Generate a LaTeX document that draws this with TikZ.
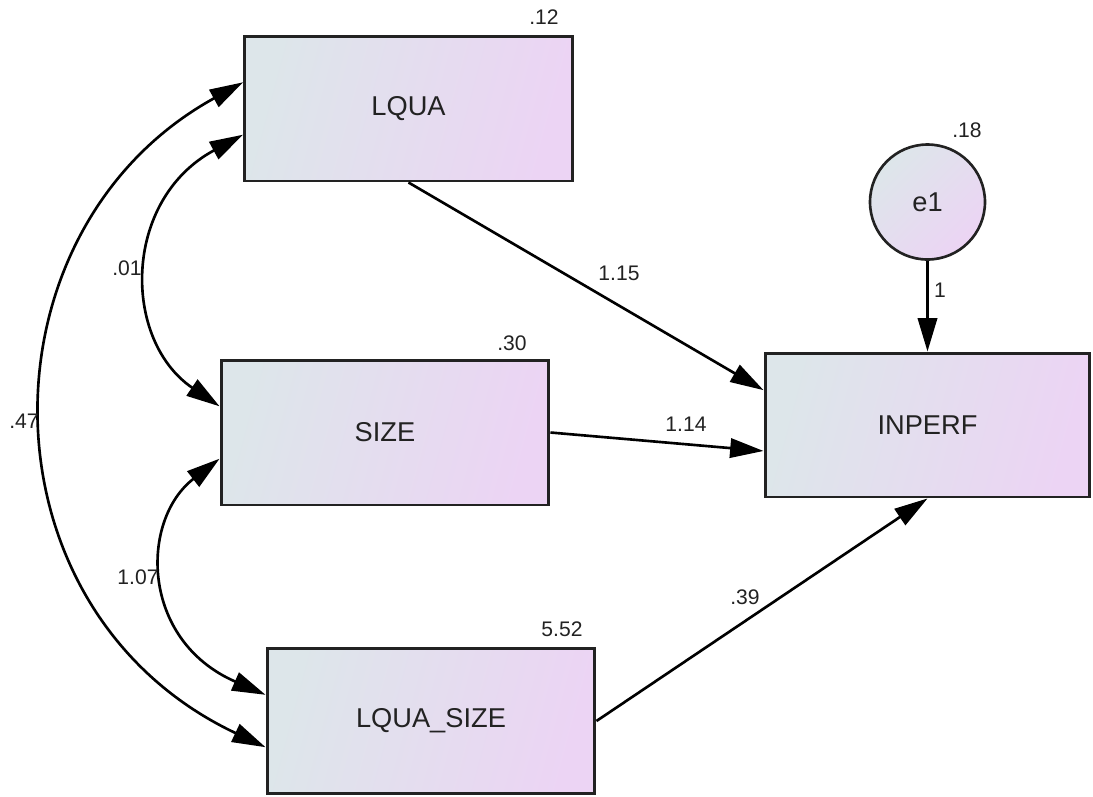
\documentclass[tikz,border=0pt]{standalone}
\usepackage{fontspec}
\setmainfont{Liberation Sans}
\usetikzlibrary{arrows.meta}

\definecolor{boxLeft}{HTML}{DDE6EA}
\definecolor{boxRight}{HTML}{ECD4F4}
\definecolor{inkGray}{HTML}{222222}

\begin{document}
\begin{tikzpicture}[x = 0.02cm, y = -0.02cm, font = \fontsize{15.5}{18}\selectfont]
\tikzstyle{boxStyle} = [shape = rectangle, draw = inkGray, line width = 1.7pt, left color = boxLeft, right color = boxRight, shading angle = 75, minimum width = 6.56cm, minimum height = 2.9cm, inner sep = 0pt, text = inkGray]
\tikzstyle{errStyle} = [shape = circle, draw = inkGray, line width = 1.5pt, left color = boxLeft, right color = boxRight, shading angle = 45, minimum size = 2.3cm, inner sep = 0pt, text = inkGray]
\tikzstyle{pathStyle} = [draw = black, line width = 1.5pt, -{Triangle[length = 19pt, width = 11pt]}]
\tikzstyle{covStyle} = [draw = black, line width = 1.5pt, {Triangle[length = 19pt, width = 11pt]}-{Triangle[length = 19pt, width = 11pt]}]
\tikzstyle{estStyle} = [font = \fontsize{12}{14}\selectfont, text = inkGray, inner sep = 0pt]
\useasboundingbox (0,0) rectangle (1093,796);
% variables
\node[boxStyle] (lqua) at (408.5,108.5) {LQUA};
\node[boxStyle] (size) at (385,432.5) {SIZE};
\node[boxStyle] (lquasize) at (431,721) {LQUA\_SIZE};
\node[boxStyle, minimum width = 6.5cm, minimum height = 2.88cm] (inperf) at (927.5,425) {INPERF};
\node[errStyle] (e1) at (927.5,202) {e1};
% variances
\node[estStyle] (v0) at (544,17) {.12};
\node[estStyle] (v1) at (512,343) {.30};
\node[estStyle] (v2) at (562,629) {5.52};
\node[estStyle] (v3) at (967,130) {.18};
% regression paths
\draw[pathStyle] (lqua.south) -- (inperf.168);
\draw[pathStyle] (size.east) -- (inperf.189);
\draw[pathStyle] (lquasize.east) -- (inperf.south);
\draw[pathStyle] (e1.south) -- (inperf.north);
\node[estStyle] (w0) at (619,273) {1.15};
\node[estStyle] (w1) at (686,424) {1.14};
\node[estStyle] (w2) at (745,597) {.39};
\node[estStyle] (w3) at (940,290) {1};
% covariances
\draw[covStyle] (lqua.171) .. controls (-25,230) and (-25,610) .. (lquasize.189);
\draw[covStyle] (lqua.189) .. controls (122,200) and (122,340) .. (size.171);
\draw[covStyle] (size.189) .. controls (140,520) and (140,640) .. (lquasize.171);
\node[estStyle] (c0) at (24,421) {.47};
\node[estStyle] (c1) at (127,268) {.01};
\node[estStyle] (c2) at (138,577) {1.07};
\end{tikzpicture}
\end{document}
